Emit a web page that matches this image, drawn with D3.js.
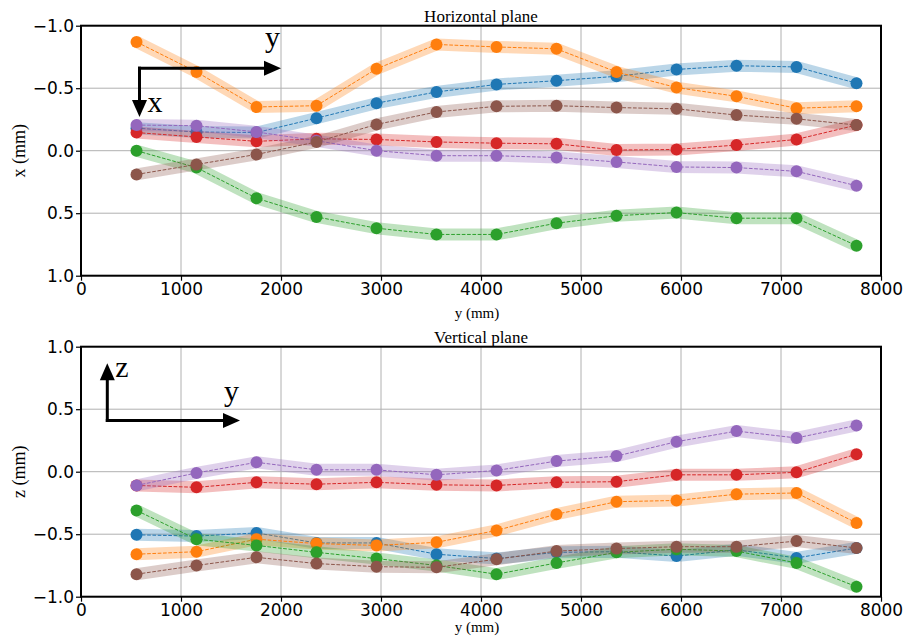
<!DOCTYPE html>
<html>
<head>
<meta charset="utf-8">
<script src="https://cdn.jsdelivr.net/npm/d3@7"></script>
<style>
  body { margin: 0; background: #fff; }
  svg { display: block; }
</style>
</head>
<body>
<svg id="chart" width="905" height="641"></svg>
<script>
// positions along the beam (mm)
var yPos = [555, 1155, 1755, 2355, 2955, 3555, 4155, 4755, 5355, 5955, 6555, 7155, 7755];

// horizontal plane, x offsets (mm)
var hBlue   = [-0.18, -0.15, -0.145, -0.26, -0.38, -0.47, -0.53, -0.56, -0.595, -0.65, -0.68, -0.67, -0.54];
var hOrange = [-0.87, -0.63, -0.35, -0.36, -0.655, -0.85, -0.83, -0.815, -0.63, -0.505, -0.435, -0.34, -0.355];
var hGreen  = [0.0, 0.135, 0.38, 0.53, 0.62, 0.67, 0.67, 0.58, 0.52, 0.495, 0.54, 0.54, 0.76];
var hRed    = [-0.145, -0.11, -0.075, -0.095, -0.09, -0.07, -0.06, -0.055, -0.005, -0.01, -0.045, -0.09, -0.205];
var hPurple = [-0.205, -0.2, -0.15, -0.08, 0.0, 0.04, 0.04, 0.055, 0.09, 0.13, 0.135, 0.165, 0.28];
var hBrown  = [0.19, 0.11, 0.03, -0.07, -0.21, -0.31, -0.355, -0.36, -0.345, -0.335, -0.285, -0.255, -0.205];

// vertical plane, z offsets (mm)
var vBlue   = [-0.505, -0.515, -0.49, -0.57, -0.57, -0.66, -0.695, -0.645, -0.64, -0.675, -0.625, -0.69, -0.61];
var vOrange = [-0.66, -0.64, -0.54, -0.575, -0.59, -0.565, -0.47, -0.34, -0.24, -0.23, -0.18, -0.17, -0.41];
var vGreen  = [-0.31, -0.54, -0.59, -0.645, -0.695, -0.75, -0.82, -0.73, -0.645, -0.62, -0.635, -0.73, -0.92];
var vRed    = [-0.11, -0.125, -0.085, -0.1, -0.085, -0.105, -0.11, -0.085, -0.08, -0.025, -0.025, -0.005, 0.14];
var vPurple = [-0.11, -0.01, 0.075, 0.015, 0.015, -0.025, 0.01, 0.085, 0.125, 0.24, 0.325, 0.27, 0.37];
var vBrown  = [-0.82, -0.75, -0.685, -0.735, -0.76, -0.765, -0.7, -0.635, -0.615, -0.6, -0.6, -0.555, -0.61];

var colors = ["#1f77b4", "#ff7f0e", "#2ca02c", "#d62728", "#9467bd", "#8c564b"];
var xTicks = [0, 1000, 2000, 3000, 4000, 5000, 6000, 7000, 8000];
var valTicks = [-1.0, -0.5, 0.0, 0.5, 1.0];

var svg = d3.select("#chart");

function drawPanel(cfg) {
    var g = svg.append("g");
    var x = d3.scaleLinear().domain([0, 8000]).range([81, 881]);
    var y = d3.scaleLinear().domain(cfg.domain).range([cfg.top, cfg.bottom]);

    // grid
    g.append("g").selectAll("line").data(xTicks).enter().append("line")
        .attr("x1", function (d) { return x(d); })
        .attr("x2", function (d) { return x(d); })
        .attr("y1", cfg.top).attr("y2", cfg.bottom)
        .attr("stroke", "#b0b0b0").attr("stroke-width", 1);
    g.append("g").selectAll("line").data(valTicks).enter().append("line")
        .attr("y1", function (d) { return y(d); })
        .attr("y2", function (d) { return y(d); })
        .attr("x1", 81).attr("x2", 881)
        .attr("stroke", "#b0b0b0").attr("stroke-width", 1);

    var line = d3.line()
        .x(function (d, i) { return x(yPos[i]); })
        .y(function (d) { return y(d); });

    cfg.series.forEach(function (s, k) {
        var c = colors[k];
        g.append("path").attr("d", line(s))
            .attr("fill", "none").attr("stroke", c)
            .attr("stroke-opacity", 0.3).attr("stroke-width", 12)
            .attr("stroke-linejoin", "round").attr("stroke-linecap", "butt");
        g.append("path").attr("d", line(s))
            .attr("fill", "none").attr("stroke", c)
            .attr("stroke-width", 1).attr("stroke-dasharray", "3.7,1.6");
        g.append("g").selectAll("circle").data(s).enter().append("circle")
            .attr("cx", function (d, i) { return x(yPos[i]); })
            .attr("cy", function (d) { return y(d); })
            .attr("r", 6).attr("fill", c);
    });

    // axes
    var xAxis = g.append("g").attr("transform", "translate(0," + cfg.bottom + ")")
        .call(d3.axisBottom(x).tickValues(xTicks).tickSize(5).tickPadding(2).tickFormat(d3.format("d")));
    var yAxis = g.append("g").attr("transform", "translate(81,0)")
        .call(d3.axisLeft(y).tickValues(valTicks).tickSize(5).tickPadding(2)
            .tickFormat(function (d) { return d3.format(".1f")(d).replace("-", "\u2212"); }));
    [xAxis, yAxis].forEach(function (a) {
        a.select(".domain").remove();
        a.selectAll(".tick line").attr("stroke", "#000").attr("stroke-width", 1.2);
        a.selectAll(".tick text").attr("fill", "#000")
            .style("font-family", "DejaVu Sans").style("font-size", "17px");
    });

    g.append("rect").attr("x", 81).attr("y", cfg.top)
        .attr("width", 800).attr("height", cfg.bottom - cfg.top)
        .attr("fill", "none").attr("stroke", "#000").attr("stroke-width", 2);

    g.append("text").attr("x", 481).attr("y", cfg.top - 4)
        .attr("text-anchor", "middle")
        .style("font-family", "Liberation Serif").style("font-size", "17px")
        .text(cfg.title);
    g.append("text").attr("x", 477).attr("y", cfg.xlabelY)
        .attr("text-anchor", "middle")
        .style("font-family", "Liberation Serif").style("font-size", "15px")
        .text("y (mm)");
    g.append("text")
        .attr("transform", "translate(25," + ((cfg.top + cfg.bottom) / 2) + ") rotate(-90)")
        .attr("text-anchor", "middle")
        .style("font-family", "Liberation Serif").style("font-size", "18px")
        .text(cfg.ylabel);

    // orientation arrows
    var ax = cfg.arrows;
    g.append("line")
        .attr("x1", x(ax.x0) - 1.5).attr("y1", y(ax.y0))
        .attr("x2", x(ax.hx) - 15).attr("y2", y(ax.y0))
        .attr("stroke", "#000").attr("stroke-width", 3);
    g.append("path")
        .attr("d", "M" + x(ax.hx) + "," + y(ax.y0) + "l-17,-7.5l0,15z")
        .attr("fill", "#000");
    var vy = y(ax.vy);
    var dir = vy > y(ax.y0) ? 1 : -1;
    g.append("line")
        .attr("x1", x(ax.x0)).attr("y1", y(ax.y0) - dir * 1.5)
        .attr("x2", x(ax.x0)).attr("y2", vy - dir * 15)
        .attr("stroke", "#000").attr("stroke-width", 3);
    g.append("path")
        .attr("d", "M" + x(ax.x0) + "," + vy + "l-7.5," + (-dir * 17) + "l15,0z")
        .attr("fill", "#000");
    g.append("text").attr("x", x(ax.hx) - 16).attr("y", y(ax.y0) - cfg.hLabelDy)
        .style("font-family", "Liberation Serif").style("font-size", "30px")
        .text("y");
    g.append("text").attr("x", x(ax.x0) + 8).attr("y", vy + cfg.vLabelDy)
        .style("font-family", "Liberation Serif").style("font-size", "30px")
        .text(cfg.vLabel);
}

drawPanel({
    top: 25.7, bottom: 275.7, domain: [-1, 1],
    series: [hBlue, hOrange, hGreen, hRed, hPurple, hBrown],
    title: "Horizontal plane", ylabel: "x (mm)", xlabelY: 318,
    arrows: { x0: 585, y0: -0.66, hx: 2000, vy: -0.27 },
    hLabelDy: 21, vLabel: "x", vLabelDy: -5
});

drawPanel({
    top: 346.7, bottom: 596.7, domain: [1, -1],
    series: [vBlue, vOrange, vGreen, vRed, vPurple, vBrown],
    title: "Vertical plane", ylabel: "z (mm)", xlabelY: 632,
    arrows: { x0: 263, y0: 0.41, hx: 1590, vy: 0.867 },
    hLabelDy: 19, vLabel: "z", vLabelDy: 14
});
</script>
</body>
</html>
